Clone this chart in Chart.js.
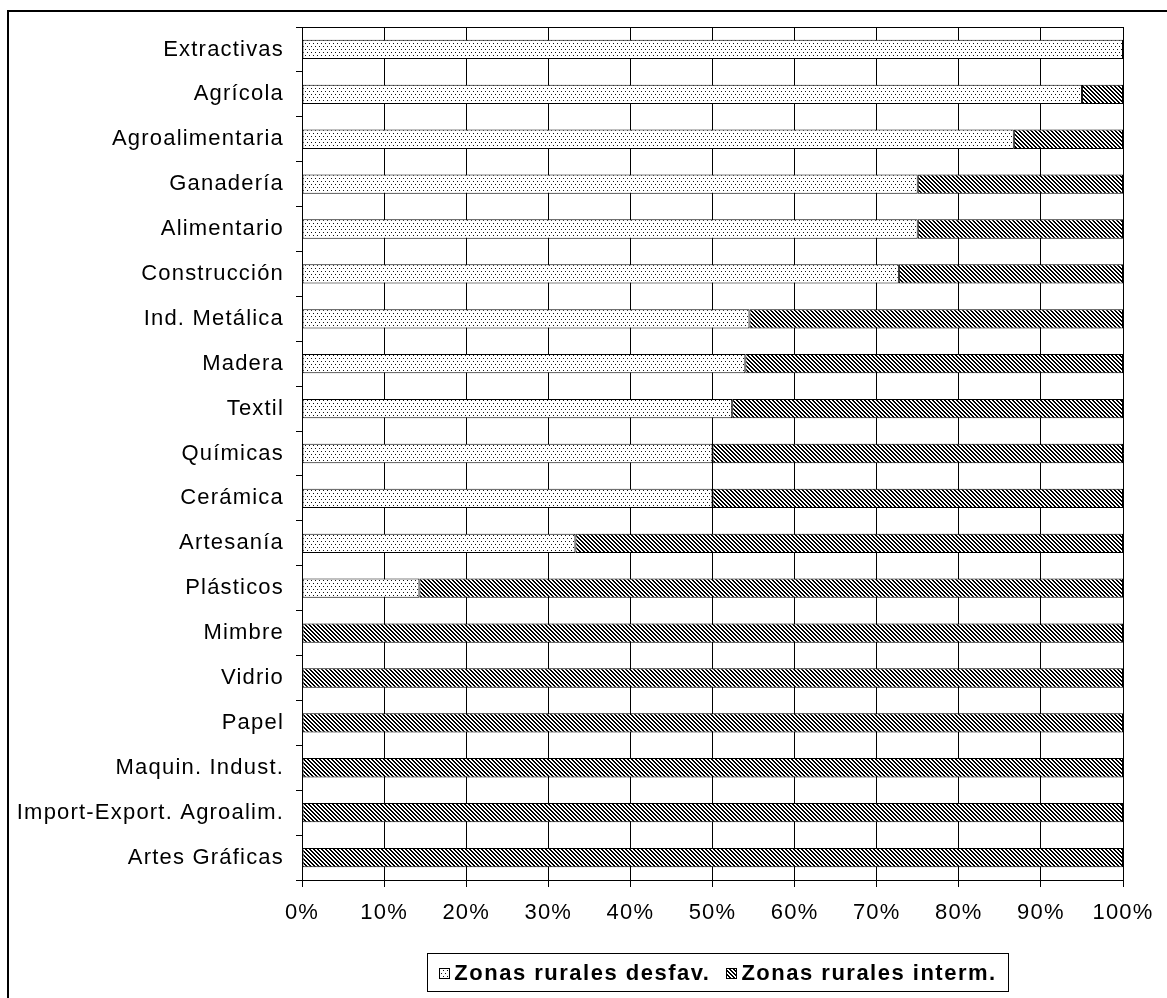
<!DOCTYPE html>
<html>
<head>
<meta charset="utf-8">
<script src="https://cdn.jsdelivr.net/npm/chart.js@4/dist/chart.umd.min.js"></script>
<style>
html,body{margin:0;padding:0;background:#fff;}
#wrap{position:relative;width:1167px;height:998px;}
</style>
</head>
<body>
<div id="wrap"><canvas id="c" width="1167" height="998"></canvas></div>
<script>
const categories = [
  "Extractivas","Agrícola","Agroalimentaria","Ganadería","Alimentario","Construcción",
  "Ind. Metálica","Madera","Textil","Químicas","Cerámica","Artesanía","Plásticos",
  "Mimbre","Vidrio","Papel","Maquin. Indust.","Import-Export. Agroalim.","Artes Gráficas"
];
const desfavValues = [100, 95, 86.7, 75, 75, 72.7, 54.5, 54, 52.4, 50, 50, 33.3, 14.3, 0, 0, 0, 0, 0, 0];
const intermValues = [0, 5, 13.3, 25, 25, 27.3, 45.5, 46, 47.6, 50, 50, 66.7, 85.7, 100, 100, 100, 100, 100, 100];
const seriesLabels = ["Zonas rurales desfav.", "Zonas rurales interm."];
const xTickValues = [0,10,20,30,40,50,60,70,80,90,100];

function makeDots(){
  const c=document.createElement('canvas'); c.width=4; c.height=6;
  const g=c.getContext('2d');
  g.fillStyle='#fff'; g.fillRect(0,0,4,6);
  g.fillStyle='#111';
  g.fillRect(1,1,1,1); g.fillRect(3,4,1,1);
  return document.getElementById('c').getContext('2d').createPattern(c,'repeat');
}
function makeHatch(){
  const c=document.createElement('canvas'); c.width=4; c.height=4;
  const g=c.getContext('2d');
  g.fillStyle='#fff'; g.fillRect(0,0,4,4);
  g.fillStyle='#000';
  for(let y=0;y<4;y++){for(let x=0;x<4;x++){const d=((x-y)%4+4)%4; if(d===0||d===1) g.fillRect(x,y,1,1);}}
  return document.getElementById('c').getContext('2d').createPattern(c,'repeat');
}
const dotPat = makeDots();
const hatchPat = makeHatch();

const FONT = '"Liberation Sans", Arial, sans-serif';

const decor = {
  id:'decor',
  beforeDraw(chart){
    chart.ctx.letterSpacing='1.2px';
  },
  afterDraw(chart){
    const ctx=chart.ctx, a=chart.chartArea;
    ctx.save();
    ctx.strokeStyle='#000'; ctx.lineWidth=1;
    ctx.beginPath(); ctx.moveTo(a.left, Math.round(a.top)+0.5); ctx.lineTo(a.right+0.5, Math.round(a.top)+0.5); ctx.stroke();
    ctx.lineWidth=2;
    ctx.beginPath(); ctx.moveTo(8,998); ctx.lineTo(8,11); ctx.lineTo(1167,11); ctx.stroke();
    const bx=427.5, by=953.5, bw=581, bh=38;
    ctx.lineWidth=1; ctx.strokeStyle='#000';
    ctx.fillStyle='#fff'; ctx.fillRect(bx,by,bw,bh);
    ctx.strokeRect(bx,by,bw,bh);
    ctx.letterSpacing='1.5px';
    ctx.font='bold 22px '+FONT;
    const pats=[dotPat,hatchPat];
    const iconW=10, iconGap=5, itemGap=16;
    const widths=seriesLabels.map(t=>ctx.measureText(t).width);
    let total=0; widths.forEach((w,i)=>{total+=iconW+iconGap+w; if(i<widths.length-1) total+=itemGap;});
    let x=bx+(bw-total)/2;
    const cy=by+bh/2;
    ctx.textBaseline='middle'; ctx.textAlign='left';
    seriesLabels.forEach((t,i)=>{
      ctx.fillStyle=pats[i];
      ctx.fillRect(Math.round(x)+0.5, Math.round(cy-iconW/2)+0.5, iconW, iconW);
      ctx.strokeStyle='#000';
      ctx.strokeRect(Math.round(x)+0.5, Math.round(cy-iconW/2)+0.5, iconW, iconW);
      x+=iconW+iconGap;
      ctx.fillStyle='#000';
      ctx.fillText(t, x, cy+1);
      x+=widths[i]+itemGap;
    });
    ctx.restore();
  }
};

new Chart(document.getElementById('c'), {
  type:'bar',
  data:{
    labels:categories,
    datasets:[
      {label:seriesLabels[0], data:desfavValues, backgroundColor:dotPat, borderColor:'#000', borderWidth:1, borderSkipped:false},
      {label:seriesLabels[1], data:intermValues, backgroundColor:hatchPat, borderColor:'#000', borderWidth:1, borderSkipped:false}
    ]
  },
  options:{
    indexAxis:'y',
    responsive:false,
    animation:false,
    devicePixelRatio:1,
    layout:{padding:{left:0,right:44,top:27,bottom:58}},
    plugins:{legend:{display:false}, tooltip:{enabled:false}},
    datasets:{bar:{categoryPercentage:1, barPercentage:0.43}},
    scales:{
      x:{
        stacked:true, min:0, max:100,
        afterBuildTicks(scale){ scale.ticks = xTickValues.map(v=>({value:v})); },
        afterFit(scale){ scale.height=60; },
        ticks:{ callback:v=>v+'%', color:'#000', font:{family:FONT, size:22}, padding:13, maxRotation:0, autoSkip:false },
        grid:{ color:'#000', lineWidth:1, drawOnChartArea:true, drawTicks:true, tickLength:7, tickColor:'#000' },
        border:{ display:true, color:'#000', width:1 }
      },
      y:{
        stacked:true,
        afterFit(scale){ scale.width=302; },
        ticks:{ color:'#000', font:{family:FONT, size:22}, padding:12, autoSkip:false },
        grid:{ offset:true, drawOnChartArea:false, drawTicks:true, tickLength:6, color:'#000', tickColor:'#000' },
        border:{ display:true, color:'#000', width:1 }
      }
    }
  },
  plugins:[decor]
});
</script>
</body>
</html>
